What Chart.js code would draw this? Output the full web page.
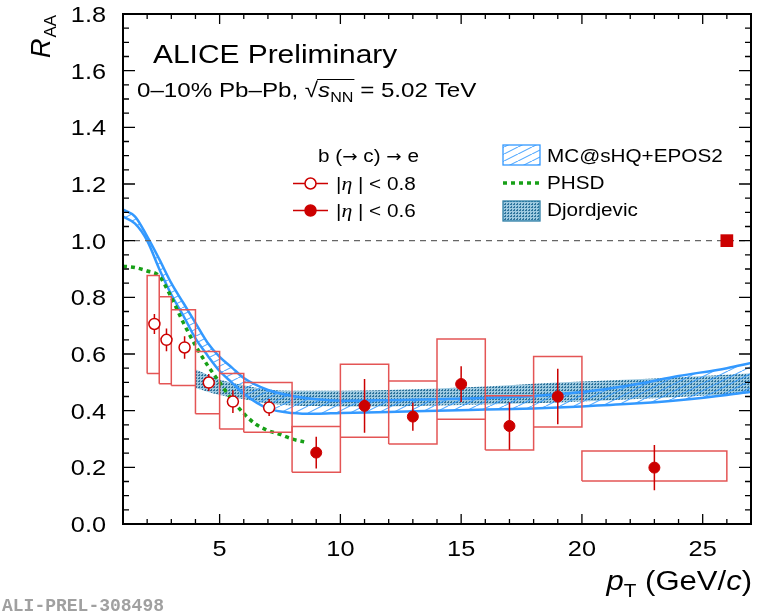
<!DOCTYPE html>
<html>
<head>
<meta charset="utf-8">
<script src="https://cdn.jsdelivr.net/npm/chart.js@4.4.1/dist/chart.umd.min.js"></script>
<style>
  html, body { margin: 0; padding: 0; background: #fff; }
  canvas { display: block; }
</style>
</head>
<body>
<canvas id="raa" width="764" height="615"></canvas>
<script>
// axis ticks
const xTicks = [5, 10, 15, 20, 25];
const yTicks = [0, 0.2, 0.4, 0.6, 0.8, 1.0, 1.2, 1.4, 1.6, 1.8];

// b(->c)->e, |eta| < 0.8 (open markers)
const openPt = [2.3, 2.8, 3.55, 4.55, 5.55, 7.05];
const openR = [0.706, 0.650, 0.623, 0.499, 0.432, 0.411];
const openStat = [0.035, 0.04, 0.04, 0.03, 0.04, 0.03];
const openBinLo = [2, 2.5, 3, 4, 5, 6];
const openBinHi = [2.5, 3, 4, 5, 6, 8];
const openSysLo = [0.531, 0.495, 0.489, 0.389, 0.335, 0.324];
const openSysHi = [0.877, 0.802, 0.756, 0.609, 0.531, 0.499];

// b(->c)->e, |eta| < 0.6 (full markers)
const fullPt = [9, 11, 13, 15, 17, 19, 23];
const fullR = [0.252, 0.417, 0.379, 0.494, 0.346, 0.450, 0.199];
const fullStat = [0.056, 0.095, 0.05, 0.063, 0.084, 0.098, 0.08];
const fullBinLo = [8, 10, 12, 14, 16, 18, 20];
const fullBinHi = [10, 12, 14, 16, 18, 20, 26];
const fullSysLo = [0.183, 0.306, 0.282, 0.370, 0.261, 0.342, 0.152];
const fullSysHi = [0.344, 0.564, 0.505, 0.653, 0.453, 0.591, 0.258];

// normalisation uncertainty
const normPt = [26];
const normR = [1.0];

// models
const mcPt = [1, 1.5, 2, 2.5, 3, 3.5, 4, 4.5, 5, 5.5, 6, 7, 8, 9, 10, 12, 14, 16, 18, 20, 22, 24, 26, 27];
const mcHi = [1.11, 1.085, 1.015, 0.935, 0.85, 0.78, 0.71, 0.64, 0.59, 0.553, 0.515, 0.473, 0.452, 0.44, 0.435, 0.437, 0.44, 0.445, 0.452, 0.466, 0.49, 0.522, 0.55, 0.568];
const mcLo = [1.085, 1.06, 1.0, 0.9, 0.81, 0.735, 0.655, 0.595, 0.54, 0.50, 0.46, 0.408, 0.392, 0.389, 0.392, 0.395, 0.40, 0.404, 0.408, 0.415, 0.424, 0.437, 0.455, 0.467];

const phsdPt = [1, 1.5, 2, 2.5, 3, 3.5, 4, 4.5, 5, 5.5, 6, 6.5, 7, 7.5, 8, 8.5];
const phsdR = [0.91, 0.905, 0.893, 0.875, 0.80, 0.71, 0.63, 0.56, 0.50, 0.44, 0.39, 0.352, 0.33, 0.316, 0.30, 0.29];

const djPt = [4, 5, 6, 7, 8, 10, 12, 14, 16, 18, 20, 22, 24, 26, 27];
const djHi = [0.545, 0.51, 0.49, 0.475, 0.47, 0.47, 0.473, 0.478, 0.485, 0.495, 0.503, 0.51, 0.518, 0.527, 0.532];
const djLo = [0.48, 0.455, 0.44, 0.425, 0.418, 0.415, 0.415, 0.418, 0.422, 0.426, 0.432, 0.44, 0.448, 0.457, 0.462];

const RED = '#cc0000';
const BOX = '#e45555';
const BLUE = '#3399ff';
const GREEN = '#17a017';
const SANS = '"Liberation Sans", Arial, sans-serif';
const SX = 1.15; // ROOT's Helvetica renders a bit wider

const pts = (xs, ys) => xs.map((x, i) => ({ x, y: ys[i] }));
const GAP = { x: null, y: null };

function boxes(lo, hi, ylo, yhi) {
  const out = [];
  lo.forEach((a, i) => {
    const b = hi[i];
    out.push({ x: a, y: ylo[i] }, { x: b, y: ylo[i] }, { x: b, y: yhi[i] },
             { x: a, y: yhi[i] }, { x: a, y: ylo[i] }, GAP);
  });
  return out;
}
function errBars(xs, ys, es) {
  const out = [];
  xs.forEach((x, i) => out.push({ x, y: ys[i] - es[i] }, { x, y: ys[i] + es[i] }, GAP));
  return out;
}

function hatchPattern() {
  const c = document.createElement('canvas');
  c.width = 14; c.height = 7;
  const g = c.getContext('2d');
  g.strokeStyle = 'rgba(51,153,255,0.85)';
  g.lineWidth = 1.1;
  g.beginPath();
  g.moveTo(-14, 7); g.lineTo(0, 0);
  g.moveTo(0, 7); g.lineTo(14, 0);
  g.moveTo(14, 7); g.lineTo(28, 0);
  g.stroke();
  return g.createPattern(c, 'repeat');
}
function dotPattern() {
  const c = document.createElement('canvas');
  c.width = 3; c.height = 3;
  const g = c.getContext('2d');
  g.fillStyle = 'rgba(140,192,218,0.85)';
  g.fillRect(0, 0, 3, 3);
  g.fillStyle = 'rgba(40,112,152,0.95)';
  g.fillRect(0, 0, 2, 1);
  g.fillRect(1, 2, 1, 1);
  return g.createPattern(c, 'repeat');
}
const HATCH = hatchPattern();
const DOTS = dotPattern();

const line = { showLine: true, pointRadius: 0, fill: false, spanGaps: false };

const datasets = [
  { label: '|eta| < 0.6', data: pts(fullPt, fullR), pointStyle: 'circle', pointRadius: 5.5,
    pointBackgroundColor: RED, pointBorderColor: RED, pointBorderWidth: 1 },
  { label: '|eta| < 0.8', data: pts(openPt, openR), pointStyle: 'circle', pointRadius: 5.5,
    pointBackgroundColor: '#fff', pointBorderColor: RED, pointBorderWidth: 1.5 },
  { ...line, label: 'stat 0.6', data: errBars(fullPt, fullR, fullStat), borderColor: RED, borderWidth: 1.5 },
  { ...line, label: 'stat 0.8', data: errBars(openPt, openR, openStat), borderColor: RED, borderWidth: 1.5 },
  { ...line, label: 'syst 0.6', data: boxes(fullBinLo, fullBinHi, fullSysLo, fullSysHi), borderColor: BOX, borderWidth: 1.5 },
  { ...line, label: 'syst 0.8', data: boxes(openBinLo, openBinHi, openSysLo, openSysHi), borderColor: BOX, borderWidth: 1.5 },
  { label: 'norm', data: pts(normPt, normR), pointStyle: 'rect', pointRadius: 9,
    pointBackgroundColor: RED, pointBorderColor: RED, pointBorderWidth: 0 },
  { ...line, label: 'PHSD', data: pts(phsdPt, phsdR), borderColor: GREEN, borderWidth: 3.5,
    borderDash: [4, 4], cubicInterpolationMode: 'monotone' },
  { ...line, label: 'unity', data: [{ x: 1, y: 1 }, { x: 27, y: 1 }], borderColor: '#666', borderWidth: 1.3, borderDash: [6, 5] },
  { ...line, label: 'MC@sHQ+EPOS2', data: pts(mcPt, mcHi), borderColor: BLUE, borderWidth: 2.5,
    cubicInterpolationMode: 'monotone', fill: '+1', backgroundColor: HATCH },
  { ...line, label: 'MC@sHQ lo', data: pts(mcPt, mcLo), borderColor: BLUE, borderWidth: 2.5,
    cubicInterpolationMode: 'monotone' },
  { ...line, label: 'Djordjevic', data: pts(djPt, djHi), borderWidth: 0, borderColor: 'rgba(0,0,0,0)',
    cubicInterpolationMode: 'monotone', fill: '+1', backgroundColor: DOTS },
  { ...line, label: 'Djordjevic lo', data: pts(djPt, djLo), borderWidth: 0, borderColor: 'rgba(0,0,0,0)',
    cubicInterpolationMode: 'monotone' }
];

// text helpers
function rich(ctx, x, y, parts, measureOnly) {
  let cx = x;
  for (const [t, font, dy] of parts) {
    ctx.font = font;
    const w = ctx.measureText(t).width * SX;
    if (!measureOnly) {
      ctx.save();
      ctx.translate(cx, y + (dy || 0));
      ctx.scale(SX, 1);
      ctx.textAlign = 'left';
      ctx.fillText(t, 0, 0);
      ctx.restore();
    }
    cx += w;
  }
  return cx;
}
function label(ctx, t, x, y, font, align) {
  ctx.save();
  ctx.font = font;
  ctx.translate(x, y);
  ctx.scale(SX, 1);
  ctx.textAlign = align;
  ctx.textBaseline = 'alphabetic';
  ctx.fillText(t, 0, 0);
  ctx.restore();
}

const frame = {
  id: 'rootFrame',
  afterDraw(chart) {
    const { ctx, chartArea: a, scales: { x, y } } = chart;
    ctx.save();
    ctx.fillStyle = '#000';
    ctx.strokeStyle = '#000';

    // ticks, inside on all four sides
    ctx.lineWidth = 1.3;
    ctx.beginPath();
    for (let v = 2; v < 27; v++) {
      const px = x.getPixelForValue(v);
      const len = v % 5 === 0 ? 10 : 5;
      ctx.moveTo(px, a.bottom); ctx.lineTo(px, a.bottom - len);
      ctx.moveTo(px, a.top); ctx.lineTo(px, a.top + len);
    }
    for (let i = 1; i < 36; i++) {
      const py = y.getPixelForValue(i * 0.05);
      const len = i % 4 === 0 ? 12 : 6;
      ctx.moveTo(a.left, py); ctx.lineTo(a.left + len, py);
      ctx.moveTo(a.right, py); ctx.lineTo(a.right - len, py);
    }
    ctx.stroke();

    ctx.lineWidth = 2;
    ctx.strokeRect(a.left, a.top, a.right - a.left, a.bottom - a.top);

    // tick labels
    const tf = '22px ' + SANS;
    ctx.textBaseline = 'alphabetic';
    xTicks.forEach(v => label(ctx, String(v), x.getPixelForValue(v), a.bottom + 32, tf, 'center'));
    yTicks.forEach(v => label(ctx, v.toFixed(1), 106, y.getPixelForValue(v) + 8, tf, 'right'));

    // axis titles
    ctx.save();
    ctx.translate(50, 58);
    ctx.rotate(-Math.PI / 2);
    ctx.font = 'italic 27px ' + SANS;
    ctx.fillText('R', 0, 0);
    const rw = ctx.measureText('R').width;
    ctx.font = '17px ' + SANS;
    ctx.fillText('AA', rw + 1, 6);
    ctx.restore();

    const ptParts = [
      ['p', 'italic 27px ' + SANS, 0],
      ['T', '18px ' + SANS, 7],
      [' (GeV/', '27px ' + SANS, 0],
      ['c', 'italic 27px ' + SANS, 0],
      [')', '27px ' + SANS, 0]
    ];
    const ptw = rich(ctx, 0, 0, ptParts, true);
    rich(ctx, 752 - ptw, 590, ptParts);

    // header
    label(ctx, 'ALICE Preliminary', 153, 63, '26px ' + SANS, 'left');
    const f21 = '21px ' + SANS;
    let cx = rich(ctx, 137, 97, [['0\u201310% Pb\u2013Pb, ', f21, 0], ['\u221A', f21, 0]]);
    const ox = cx;
    cx = rich(ctx, cx, 97, [['s', 'italic 21px ' + SANS, 0], ['NN', '14px ' + SANS, 5]]);
    ctx.lineWidth = 1.2;
    ctx.beginPath();
    ctx.moveTo(ox - 1, 97 - 17.5); ctx.lineTo(cx + 1, 97 - 17.5);
    ctx.stroke();
    rich(ctx, cx, 97, [[' = 5.02 TeV', f21, 0]]);

    // legend
    const lf = '18px ' + SANS;
    const af = '16px "DejaVu Sans", sans-serif';
    const eta = 'italic 19px "Liberation Serif", serif';
    rich(ctx, 318, 162, [['b (', lf, 0], ['\u2192', af, 0], [' c) ', lf, 0], ['\u2192', af, 0], [' e', lf, 0]]);
    [[183.5, 190, '0.8', false], [210.5, 217, '0.6', true]].forEach(([my, ty, cut, filled]) => {
      ctx.strokeStyle = RED;
      ctx.lineWidth = 1.3;
      ctx.beginPath();
      ctx.moveTo(293, my); ctx.lineTo(328, my);
      ctx.stroke();
      ctx.beginPath();
      ctx.arc(310.5, my, 5.5, 0, Math.PI * 2);
      ctx.fillStyle = filled ? RED : '#fff';
      ctx.fill();
      ctx.lineWidth = 1.5;
      ctx.stroke();
      ctx.fillStyle = '#000';
      rich(ctx, 336, ty, [['|', lf, 0], ['\u03B7', eta, 0], [' | < ' + cut, lf, 0]]);
    });

    ctx.fillStyle = HATCH;
    ctx.fillRect(503, 145, 37, 20);
    ctx.strokeStyle = BLUE;
    ctx.lineWidth = 1.3;
    ctx.strokeRect(503, 145, 37, 20);
    ctx.strokeStyle = GREEN;
    ctx.lineWidth = 3.5;
    ctx.setLineDash([4, 4]);
    ctx.beginPath();
    ctx.moveTo(503, 183); ctx.lineTo(540, 183);
    ctx.stroke();
    ctx.setLineDash([]);
    ctx.fillStyle = DOTS;
    ctx.fillRect(503, 201, 37, 20);
    ctx.strokeStyle = '#2f7fa6';
    ctx.lineWidth = 1.3;
    ctx.strokeRect(503, 201, 37, 20);
    ctx.fillStyle = '#000';
    label(ctx, 'MC@sHQ+EPOS2', 547, 162, lf, 'left');
    label(ctx, 'PHSD', 547, 189, lf, 'left');
    label(ctx, 'Djordjevic', 547, 216, lf, 'left');

    // preliminary tag
    ctx.fillStyle = '#a0a0a0';
    ctx.font = 'bold 18px "Liberation Mono", monospace';
    ctx.textAlign = 'left';
    ctx.fillText('ALI-PREL-308498', 2, 611);
    ctx.restore();
  }
};

new Chart(document.getElementById('raa'), {
  type: 'scatter',
  data: { datasets },
  options: {
    responsive: false,
    animation: false,
    devicePixelRatio: 1,
    layout: { padding: { left: 123, right: 13, top: 14, bottom: 91 } },
    scales: {
      x: { type: 'linear', min: 1, max: 27, display: false },
      y: { type: 'linear', min: 0, max: 1.8, display: false }
    },
    plugins: { legend: { display: false }, tooltip: { enabled: false } }
  },
  plugins: [frame]
});
</script>
</body>
</html>
